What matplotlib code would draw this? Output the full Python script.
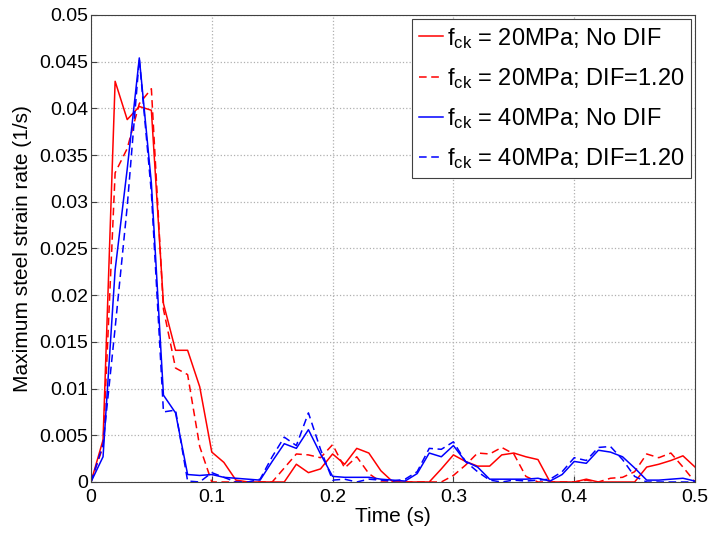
import numpy as np
import matplotlib
matplotlib.use('Agg')
import matplotlib.pyplot as plt

plt.rcParams['font.family'] = ['Liberation Sans', 'DejaVu Sans']
plt.rcParams['mathtext.fontset'] = 'custom'
plt.rcParams['mathtext.rm'] = 'Liberation Sans'

#time axis, one sample every 0.01 s
t = np.round(np.arange(0, 0.501, 0.01), 2)

#fck = 20MPa, no DIF
red_solid = [0, 0.0045, 0.0429, 0.0388, 0.0402, 0.0398, 0.0191, 0.0141, 0.0141, 0.0102,
             0.0032, 0.0021, 0.0002, 0, 0, 0, 0, 0.0019, 0.001, 0.0014,
             0.003, 0.0019, 0.0036, 0.0031, 0.0012, 0, 0, 0, 0, 0.0014,
             0.0029, 0.0022, 0.0017, 0.0017, 0.0029, 0.0031, 0.0027, 0.0024, 0, 0,
             0, 0.0003, 0, 0, 0, 0, 0.0016, 0.0019, 0.0023, 0.0028,
             0.0016]
#fck = 20MPa, DIF = 1.20
red_dash = [0, 0.0038, 0.0331, 0.0357, 0.0405, 0.0421, 0.0185, 0.0122, 0.0115, 0.0038,
            0, 0, 0, 0, 0, 0, 0.0015, 0.003, 0.0029, 0.0026,
            0.004, 0.0015, 0.0027, 0.0009, 0, 0, 0, 0, 0, 0,
            0.0007, 0.0018, 0.0031, 0.003, 0.0037, 0.003, 0.0006, 0, 0, 0,
            0, 0.0002, 0, 0.0004, 0.0005, 0.0011, 0.003, 0.0026, 0.0031, 0.0016,
            0]
#fck = 40MPa, no DIF
blue_solid = [0, 0.0027, 0.0227, 0.0335, 0.0454, 0.032, 0.0093, 0.0074, 0.0008, 0.0007,
              0.0008, 0.0005, 0.0004, 0.0003, 0.0002, 0.0022, 0.0041, 0.0036, 0.0056, 0.003,
              0.0006, 0.0005, 0.0005, 0.0005, 0.0003, 0.0002, 0.0001, 0.0009, 0.0031, 0.0027,
              0.0039, 0.0022, 0.0016, 0.0003, 0.0003, 0.0003, 0.0003, 0.0004, 0.0001, 0.0008,
              0.0022, 0.002, 0.0034, 0.0032, 0.0027, 0.0015, 0.0002, 0.0002, 0.0003, 0.0004,
              0.0001]
#fck = 40MPa, DIF = 1.20
blue_dash = [0, 0.004, 0.0165, 0.0295, 0.0453, 0.031, 0.0075, 0.0077, 0.0001, 0,
             0.001, 0.0005, 0, 0, 0.0003, 0.0027, 0.0048, 0.0039, 0.0074, 0.0035,
             0.0002, 0.0003, 0, 0.0003, 0.0002, 0.0001, 0.0003, 0.0011, 0.0036, 0.0035,
             0.0043, 0.0022, 0.0011, 0.0002, 0, 0.0002, 0.0001, 0.0002, 0.0003, 0.0011,
             0.0026, 0.0023, 0.0037, 0.0038, 0.0024, 0.0006, 0, 0, 0, 0,
             0]

labels = [r'$\mathregular{f_{ck}}$ = 20MPa; No DIF',
          r'$\mathregular{f_{ck}}$ = 20MPa; DIF=1.20',
          r'$\mathregular{f_{ck}}$ = 40MPa; No DIF',
          r'$\mathregular{f_{ck}}$ = 40MPa; DIF=1.20']

xticks = [0, 0.1, 0.2, 0.3, 0.4, 0.5]
xticklabels = ['0', '0.1', '0.2', '0.3', '0.4', '0.5']
yticks = [0, 0.005, 0.01, 0.015, 0.02, 0.025, 0.03, 0.035, 0.04, 0.045, 0.05]
yticklabels = ['0', '0.005', '0.01', '0.015', '0.02', '0.025', '0.03', '0.035', '0.04', '0.045', '0.05']

fig = plt.figure(figsize=(7.09, 5.33), dpi=100)
ax = fig.add_axes([0.1283, 0.0957, 0.852, 0.8762])

dash = (0, (5, 3))
ax.plot(t, red_solid, color='#ff0000', lw=1.1, label=labels[0])
ax.plot(t, red_dash, color='#ff0000', lw=1.1, ls=dash, label=labels[1])
ax.plot(t, blue_solid, color='#0000ff', lw=1.1, label=labels[2])
ax.plot(t, blue_dash, color='#0000ff', lw=1.1, ls=dash, label=labels[3])

ax.set_xlim(0, 0.5)
ax.set_ylim(0, 0.05)
ax.set_xticks(xticks)
ax.set_xticklabels(xticklabels, fontsize=14)
ax.set_yticks(yticks)
ax.set_yticklabels(yticklabels, fontsize=14)
ax.tick_params(direction='in', length=4, color='#404040')
ax.tick_params(axis='y', pad=2)
ax.tick_params(axis='x', pad=5)
ax.grid(True, ls=':', color='#b0b0b0', lw=0.9)
for s in ax.spines.values():
    s.set_color('#404040')
    s.set_linewidth(0.8)

ax.set_xlabel('Time (s)', fontsize=15, labelpad=1)
ax.set_ylabel('Maximum steel strain rate (1/s)', fontsize=15, labelpad=5)

leg = ax.legend(loc='upper right', fontsize=17, handlelength=1.0, handletextpad=0.15,
                labelspacing=0.65, borderpad=0.3, borderaxespad=0.15, fancybox=False,
                framealpha=1)
leg.get_frame().set_edgecolor('#404040')
leg.get_frame().set_linewidth(0.8)

fig.savefig('out.png', dpi=100)
